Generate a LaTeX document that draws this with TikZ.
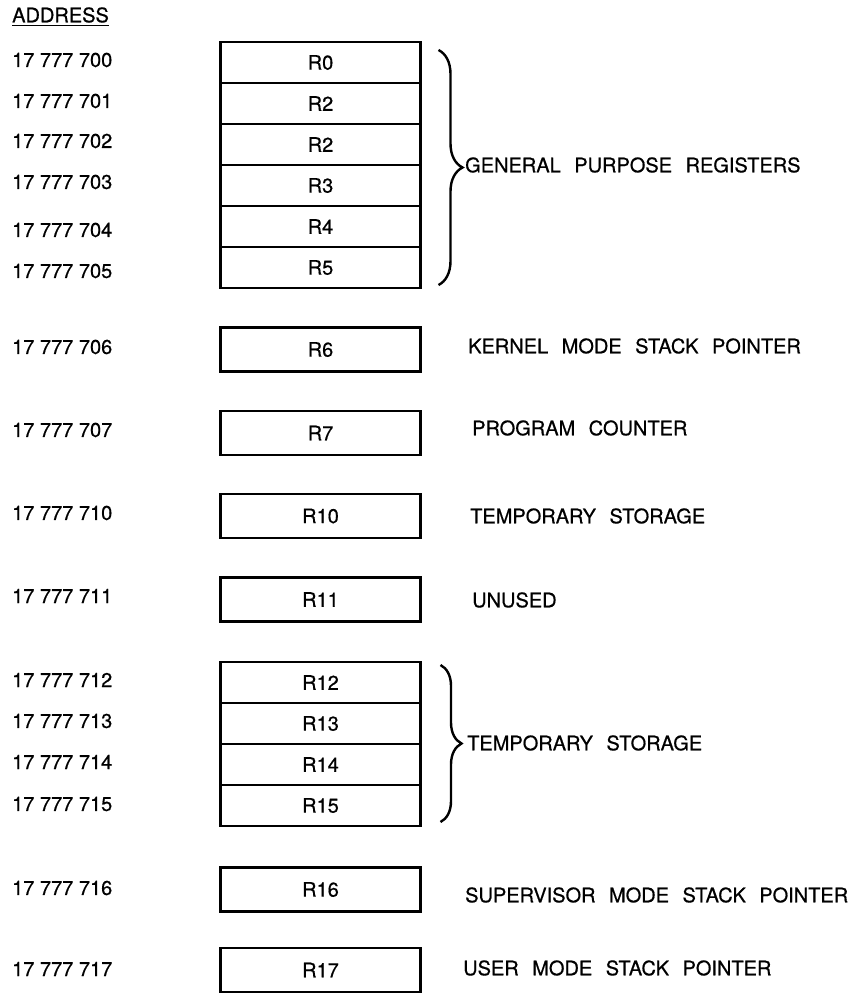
\documentclass[tikz,border=0pt]{standalone}
\usepackage{fontspec}
\setmainfont{TeX Gyre Heros}[FakeBold=0.6]
\usetikzlibrary{positioning,decorations.pathreplacing}

\newcommand{\widewords}{\fontsize{20}{24}\selectfont\spaceskip=13.5pt\relax}

\tikzset{
    reg/.style={draw, line width=2.6pt, minimum width=200pt, minimum height=41pt,
        inner sep=0pt, outer sep=0pt},
    single/.style={reg, minimum height=44pt},
    addr/.style={anchor=west, inner sep=0pt},
    desc/.style={anchor=west, inner sep=0pt, font=\widewords},
    gbrace/.style={decorate, decoration={brace, amplitude=#1}, line width=2.4pt}
}

\begin{document}
\begin{tikzpicture}[x=1pt, y=-1pt, font=\fontsize{20}{24}\selectfont]
    \useasboundingbox (0,0) rectangle (865,993);

    % intestazione
    \node[addr] (head) at (12,15) {ADDRESS};
    \draw[line width=1.4pt] ([yshift=-2.5pt]head.south west) -- ([yshift=-2.5pt]head.south east);

    % registri generali
    \node[reg] (r0) at (320.5,62.5) {R0};
    \node[reg, below=0pt of r0] (r1) {R2};
    \node[reg, below=0pt of r1] (r2) {R2};
    \node[reg, below=0pt of r2] (r3) {R3};
    \node[reg, below=0pt of r3] (r4) {R4};
    \node[reg, below=0pt of r4] (r5) {R5};

    \node[addr] (a0) at (12,60) {17 777 700};
    \node[addr] (a1) at (12,101) {17 777 701};
    \node[addr] (a2) at (12,141) {17 777 702};
    \node[addr] (a3) at (12,182) {17 777 703};
    \node[addr] (a4) at (12,230) {17 777 704};
    \node[addr] (a5) at (12,271) {17 777 705};

    \draw[gbrace=24pt] ([xshift=18pt,yshift=-8pt]r0.north east) -- ([xshift=18pt,yshift=3pt]r5.south east);
    \node[desc] (gpr) at (465,165) {GENERAL PURPOSE REGISTERS};

    % registri singoli
    \node[single] (r6) at (320.5,349.5) {R6};
    \node[single] (r7) at (320.5,433) {R7};
    \node[single] (r10) at (320.5,516) {R10};
    \node[single] (r11) at (320.5,599.5) {R11};

    \node[addr] (a6) at (12,347) {17 777 706};
    \node[addr] (a7) at (12,430) {17 777 707};
    \node[addr] (a10) at (12,513) {17 777 710};
    \node[addr] (a11) at (12,596) {17 777 711};

    \node[desc] (ksp) at (468,346) {KERNEL MODE STACK POINTER};
    \node[desc] (pc) at (472,428) {PROGRAM COUNTER};
    \node[desc] (tmp) at (470,516) {TEMPORARY STORAGE};
    \node[desc] (unused) at (472,600) {UNUSED};

    % blocco da 4
    \node[reg] (r12) at (320.5,682.5) {R12};
    \node[reg, below=0pt of r12] (r13) {R13};
    \node[reg, below=0pt of r13] (r14) {R14};
    \node[reg, below=0pt of r14] (r15) {R15};

    \node[addr] (a12) at (12,680) {17 777 712};
    \node[addr] (a13) at (12,721) {17 777 713};
    \node[addr] (a14) at (12,762) {17 777 714};
    \node[addr] (a15) at (12,804) {17 777 715};

    \draw[gbrace=21pt] ([xshift=20pt,yshift=-3pt]r12.north east) -- ([xshift=20pt,yshift=4pt]r15.south east);
    \node[desc] (tmpb) at (467,743) {TEMPORARY STORAGE};

    % puntatori di stack
    \node[single] (r16) at (320.5,889.5) {R16};
    \node[single] (r17) at (320.5,970) {R17};

    \node[addr] (a16) at (12,888) {17 777 716};
    \node[addr] (a17) at (12,969) {17 777 717};

    \node[desc] (ssp) at (465,895) {SUPERVISOR MODE STACK POINTER};
    \node[desc] (usp) at (463,968) {USER MODE STACK POINTER};
\end{tikzpicture}
\end{document}
